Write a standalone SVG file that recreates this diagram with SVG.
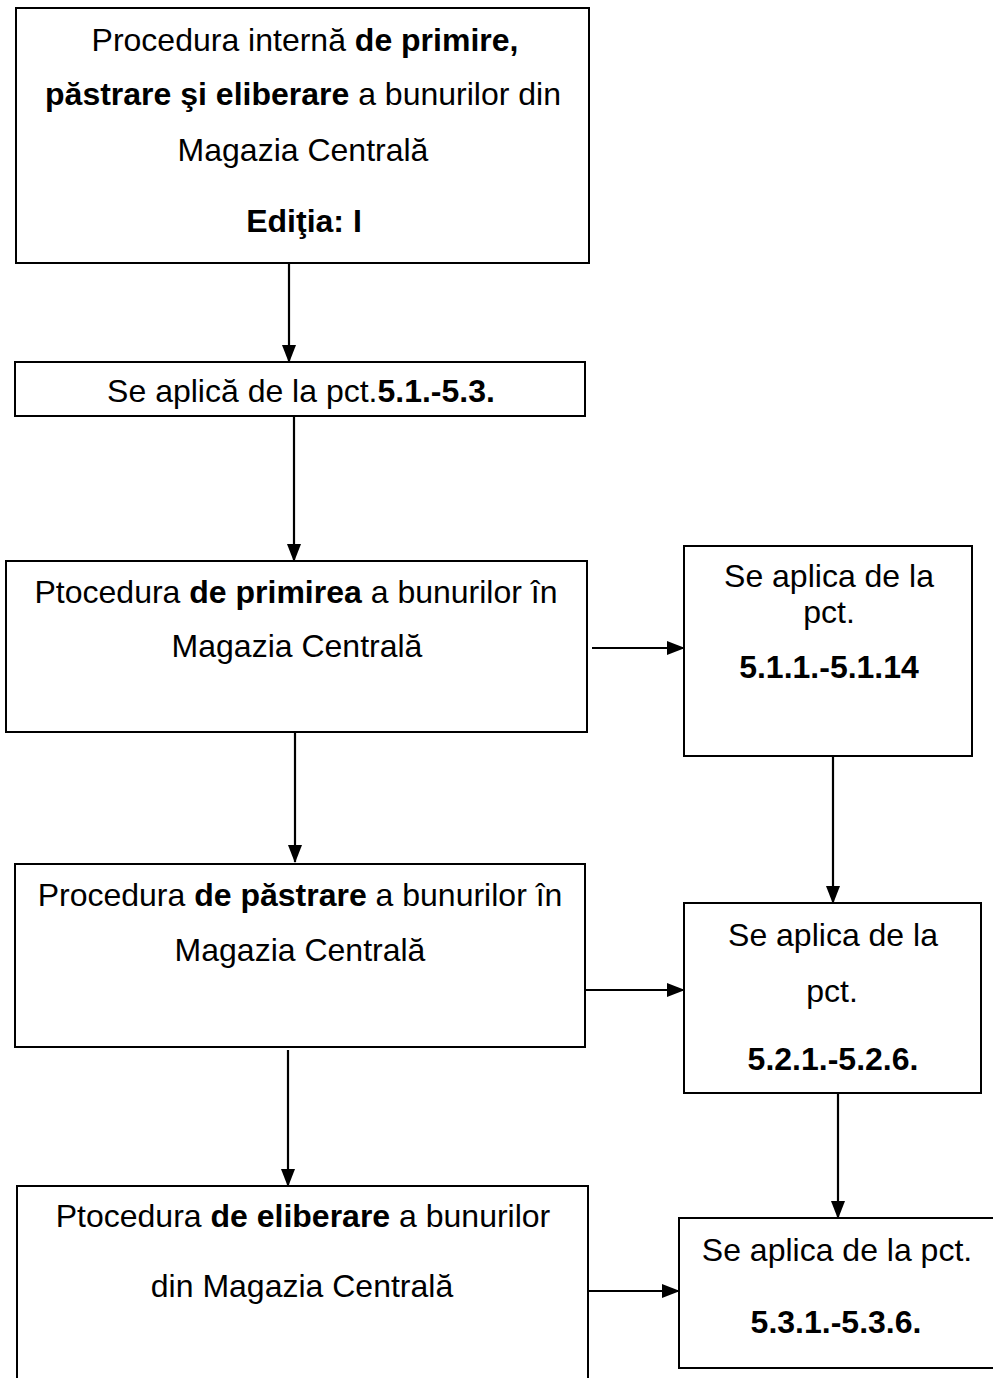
<svg xmlns="http://www.w3.org/2000/svg" width="993" height="1378" viewBox="0 0 993 1378">
<style>
.box{fill:#fff;stroke:#000;stroke-width:2}
.t{font-family:"Liberation Sans",Arial,sans-serif;font-size:32px;fill:#000;text-anchor:middle}
.b{font-weight:bold}
.c{stroke:#000;stroke-width:2.2;fill:none}
</style>
<defs>
<marker id="ahd" markerWidth="18" markerHeight="16" refX="17" refY="8" orient="auto" markerUnits="userSpaceOnUse" viewBox="0 0 18 16">
<path d="M0,1 L18,8 L0,15 z" fill="#000"/>
</marker>
</defs>
<rect width="993" height="1378" fill="#fff"/>
<g id="connectors">
<line class="c" x1="289" y1="263" x2="289" y2="362" marker-end="url(#ahd)"/>
<line class="c" x1="294" y1="416" x2="294" y2="561" marker-end="url(#ahd)"/>
<line class="c" x1="592" y1="648" x2="684" y2="648" marker-end="url(#ahd)"/>
<line class="c" x1="295" y1="732" x2="295" y2="862" marker-end="url(#ahd)"/>
<line class="c" x1="833" y1="756" x2="833" y2="903" marker-end="url(#ahd)"/>
<line class="c" x1="585" y1="990" x2="684" y2="990" marker-end="url(#ahd)"/>
<line class="c" x1="288" y1="1050" x2="288" y2="1186" marker-end="url(#ahd)"/>
<line class="c" x1="838" y1="1093" x2="838" y2="1218" marker-end="url(#ahd)"/>
<line class="c" x1="588" y1="1291" x2="679" y2="1291" marker-end="url(#ahd)"/>
</g>
<g id="n1">
<rect class="box" x="16" y="8" width="573" height="255"/>
<text class="t" x="305" y="51">Procedura internă <tspan class="b">de primire,</tspan></text>
<text class="t" x="303" y="105"><tspan class="b">păstrare şi eliberare</tspan> a bunurilor din</text>
<text class="t" x="303" y="161">Magazia Centrală</text>
<text class="t b" x="304" y="232">Ediţia: I</text>
</g>
<g id="n2">
<rect class="box" x="15" y="362" width="570" height="54"/>
<text class="t" x="301" y="402">Se aplică de la pct.<tspan class="b">5.1.-5.3.</tspan></text>
</g>
<g id="n3">
<rect class="box" x="6" y="561" width="581" height="171"/>
<text class="t" x="296" y="603">Ptocedura <tspan class="b">de primirea</tspan> a bunurilor în</text>
<text class="t" x="297" y="657">Magazia Centrală</text>
</g>
<g id="n4">
<rect class="box" x="684" y="546" width="288" height="210"/>
<text class="t" x="829" y="587">Se aplica de la</text>
<text class="t" x="829" y="623">pct.</text>
<text class="t b" x="829" y="678">5.1.1.-5.1.14</text>
</g>
<g id="n5">
<rect class="box" x="15" y="864" width="570" height="183"/>
<text class="t" x="300" y="906">Procedura <tspan class="b">de păstrare</tspan> a bunurilor în</text>
<text class="t" x="300" y="961">Magazia Centrală</text>
</g>
<g id="n6">
<rect class="box" x="684" y="903" width="297" height="190"/>
<text class="t" x="833" y="946">Se aplica de la</text>
<text class="t" x="832" y="1002">pct.</text>
<text class="t b" x="833" y="1070">5.2.1.-5.2.6.</text>
</g>
<g id="n7">
<rect class="box" x="17" y="1186" width="571" height="200"/>
<text class="t" x="303" y="1227">Ptocedura <tspan class="b">de eliberare</tspan> a bunurilor</text>
<text class="t" x="302" y="1297">din Magazia Centrală</text>
</g>
<g id="n8">
<rect class="box" x="679" y="1218" width="320" height="150"/>
<text class="t" x="837" y="1261">Se aplica de la pct.</text>
<text class="t b" x="836" y="1333">5.3.1.-5.3.6.</text>
</g>
</svg>
